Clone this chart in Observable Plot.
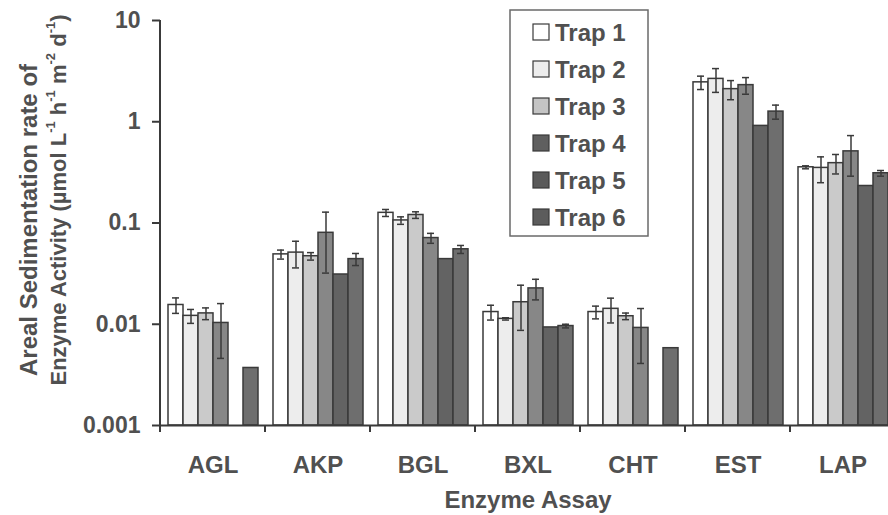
<!DOCTYPE html>
<html>
<head>
<meta charset="utf-8">
<script src="https://cdn.jsdelivr.net/npm/d3@7"></script>
<script src="https://cdn.jsdelivr.net/npm/@observablehq/plot@0.6"></script>
<style>
  body { margin: 0; background: #fff; }
</style>
</head>
<body>
<div id="chart"></div>
<script>
// Enzyme assays (x groups) and sediment traps (bars within each group)
const assays = ["AGL", "AKP", "BGL", "BXL", "CHT", "EST", "LAP"];
const traps = ["Trap 1", "Trap 2", "Trap 3", "Trap 4", "Trap 5", "Trap 6"];

// Mean areal sedimentation rate per assay (µmol L-1 h-1 m-2 d-1), null = not measured
const trap1 = [0.0155, 0.049, 0.126, 0.0132, 0.0132, 2.45, 0.355];
const trap2 = [0.0121, 0.051, 0.106, 0.0113, 0.0142, 2.65, 0.35];
const trap3 = [0.0128, 0.047, 0.120, 0.0165, 0.0120, 2.10, 0.39];
const trap4 = [0.0103, 0.080, 0.071, 0.0226, 0.0092, 2.30, 0.51];
const trap5 = [null, 0.031, 0.044, 0.0093, null, 0.91, 0.232];
const trap6 = [0.0037, 0.044, 0.055, 0.0096, 0.0058, 1.26, 0.31];

// Standard errors (0 = no error bar)
const trap1Err = [0.0027, 0.005, 0.010, 0.0022, 0.0019, 0.37, 0.012];
const trap2Err = [0.0019, 0.015, 0.009, 0.0003, 0.0039, 0.70, 0.10];
const trap3Err = [0.0017, 0.004, 0.009, 0.0078, 0.0009, 0.45, 0.085];
const trap4Err = [0.0057, 0.048, 0.008, 0.0052, 0.0051, 0.43, 0.22];
const trap5Err = [0, 0, 0, 0, 0, 0, 0];
const trap6Err = [0, 0.006, 0.005, 0.0004, 0, 0.20, 0.02];

// Log axis ticks
const yTicks = [0.001, 0.01, 0.1, 1, 10];
const yTickLabels = ["0.001", "0.01", "0.1", "1", "10"];

// Bar fills per trap
const trapFills = ["#ffffff", "#ededed", "#cacaca", "#878787", "#636363", "#6e6e6e"];
const legendFills = ["#ffffff", "#ededed", "#c4c4c4", "#5f5f5f", "#5a5a5a", "#5c5c5c"];

const series = [trap1, trap2, trap3, trap4, trap5, trap6];
const seriesErr = [trap1Err, trap2Err, trap3Err, trap4Err, trap5Err, trap6Err];

const rows = [];
traps.forEach((trap, t) => {
  assays.forEach((assay, a) => {
    const value = series[t][a];
    if (value == null) return;
    rows.push({assay, trap, value, err: seriesErr[t][a]});
  });
});
const errRows = rows.filter(d => d.err > 0);

const ink = "#3a3a3a";
const textColor = "#505050";
const fontFamily = "'Liberation Sans', Arial, Helvetica, sans-serif";

const chart = Plot.plot({
  width: 888,
  height: 515,
  marginLeft: 160,
  marginRight: -7,
  marginTop: 20,
  marginBottom: 90,
  style: {
    fontFamily,
    fontWeight: "bold",
    fontSize: "23px",
    color: textColor,
    background: "#fff"
  },
  fx: {domain: assays, padding: 0},
  x: {domain: traps, paddingInner: 0, paddingOuter: 0.5, axis: null},
  y: {type: "log", domain: [0.001, 10], axis: null},
  color: {domain: traps, range: trapFills},
  marks: [
    Plot.barY(rows, {
      fx: "assay", x: "trap", y1: 0.001, y2: "value",
      fill: "trap", stroke: ink, strokeWidth: 1.5
    }),
    Plot.ruleX(errRows, {
      fx: "assay", x: "trap",
      y1: d => d.value - d.err, y2: d => d.value + d.err,
      stroke: ink, strokeWidth: 1.5
    }),
    Plot.tickY(errRows, {
      fx: "assay", x: "trap", y: d => d.value + d.err,
      insetLeft: 4, insetRight: 4, stroke: ink, strokeWidth: 1.5
    }),
    Plot.tickY(errRows, {
      fx: "assay", x: "trap", y: d => d.value - d.err,
      insetLeft: 4, insetRight: 4, stroke: ink, strokeWidth: 1.5
    }),
    Plot.ruleY([0.001], {stroke: ink, strokeWidth: 2}),
    Plot.axisY({
      ticks: yTicks,
      tickFormat: d => yTickLabels[yTicks.indexOf(d)],
      tickSize: 8, tickPadding: 12,
      stroke: ink, strokeWidth: 2,
      label: null
    }),
    Plot.axisFx({
      anchor: "bottom",
      tickSize: 0, tickPadding: 30, fontSize: 24,
      label: "Enzyme Assay", labelAnchor: "center", labelOffset: 82
    })
  ]
});

document.getElementById("chart").appendChild(chart);

// Axis line and group boundary ticks from the plot's own scales
const svg = d3.select(chart);
const fx = chart.scale("fx");
const y = chart.scale("y");
const yBottom = y.apply(0.001);
const yTop = y.apply(10);
const xLeft = fx.apply(assays[0]);

svg.append("line")
  .attr("x1", xLeft).attr("x2", xLeft)
  .attr("y1", yTop).attr("y2", yBottom + 1)
  .attr("stroke", ink).attr("stroke-width", 2);

svg.append("g").selectAll("line")
  .data(assays)
  .join("line")
  .attr("x1", d => fx.apply(d)).attr("x2", d => fx.apply(d))
  .attr("y1", yBottom).attr("y2", yBottom + 7)
  .attr("stroke", ink).attr("stroke-width", 2);

// Two-line rotated y-axis title with superscript units
const title = svg.append("g")
  .attr("fill", textColor)
  .attr("font-family", fontFamily)
  .attr("font-weight", "bold")
  .attr("text-anchor", "middle");

title.append("text")
  .attr("transform", "translate(28,220) rotate(-90)")
  .attr("dominant-baseline", "central")
  .attr("font-size", 24)
  .text("Areal Sedimentation rate of");

const line2 = title.append("text")
  .attr("transform", "translate(58,200) rotate(-90)")
  .attr("dominant-baseline", "central")
  .attr("font-size", 22);
const unitParts = [
  ["Enzyme Activity (µmol L", false], ["-1", true],
  [" h", false], ["-1", true],
  [" m", false], ["-2", true],
  [" d", false], ["-1", true],
  [")", false]
];
let raised = false;
unitParts.forEach(([txt, sup]) => {
  const ts = line2.append("tspan").text(txt);
  if (sup && !raised) { ts.attr("dy", -8).attr("font-size", 13); raised = true; }
  else if (sup) { ts.attr("font-size", 13); }
  else if (raised) { ts.attr("dy", 8); raised = false; }
});

// Legend box
const legend = svg.append("g")
  .attr("font-family", fontFamily)
  .attr("font-weight", "bold")
  .attr("font-size", 24)
  .attr("text-anchor", "start");

legend.append("rect")
  .attr("x", 510).attr("y", 10)
  .attr("width", 138).attr("height", 226)
  .attr("fill", "#fff").attr("stroke", "#6a6a6a").attr("stroke-width", 1.5);

traps.forEach((trap, i) => {
  const cy = 32 + i * 37;
  legend.append("rect")
    .attr("x", 533).attr("y", cy - 8)
    .attr("width", 16).attr("height", 16)
    .attr("fill", legendFills[i]).attr("stroke", ink).attr("stroke-width", 1.2);
  legend.append("text")
    .attr("x", 555).attr("y", cy)
    .attr("dominant-baseline", "central")
    .attr("fill", textColor)
    .text(trap);
});
</script>
</body>
</html>
